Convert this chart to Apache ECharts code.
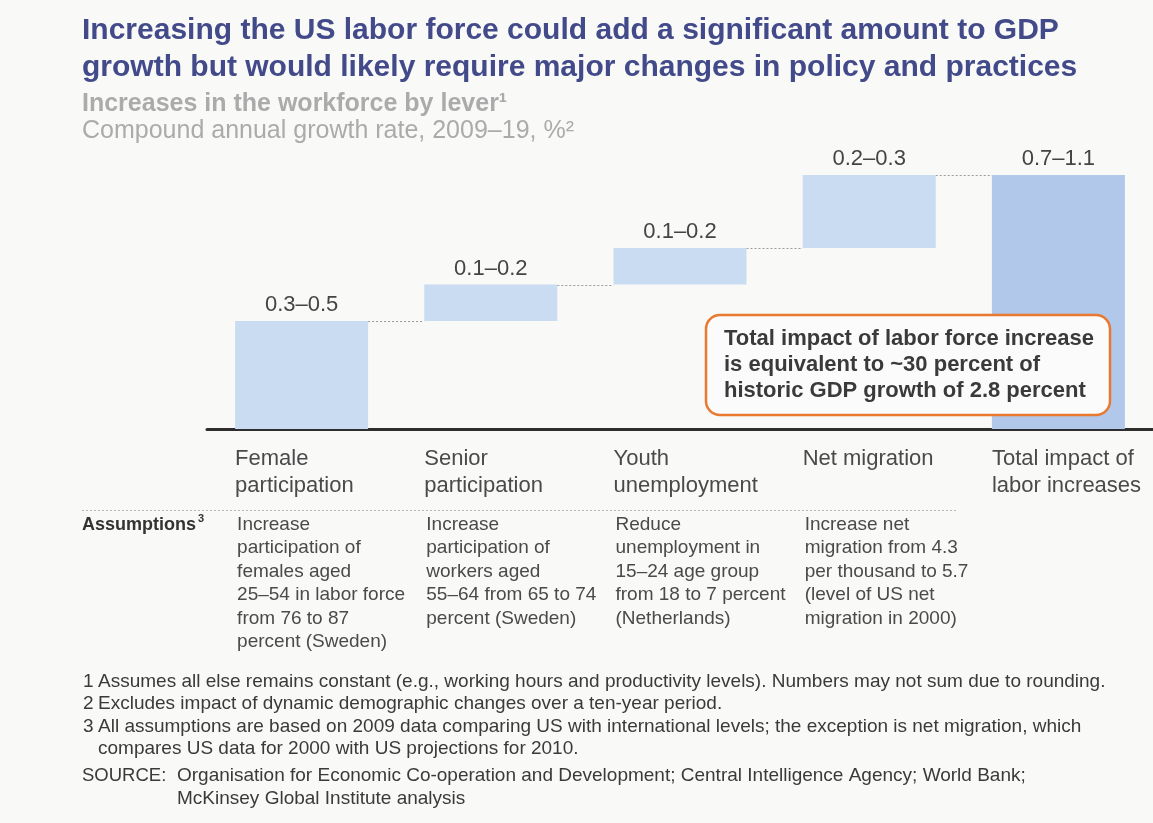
<!DOCTYPE html>
<html>
<head>
<meta charset="utf-8">
<script src="https://cdn.jsdelivr.net/npm/echarts@6/dist/echarts.min.js"></script>
<style>
  html, body { margin: 0; padding: 0; background: #f9f9f8; }
  #chart { width: 1153px; height: 823px; }
</style>
</head>
<body>
<div id="chart"></div>
<script>
// Levers of labor-force growth and their estimated contribution (CAGR 2009–19, %)
const categories = ['Female\nparticipation', 'Senior\nparticipation', 'Youth\nunemployment', 'Net migration', 'Total impact of\nlabor increases'];
const barValues = [0.37, 0.125, 0.125, 0.25, 0.87];   // drawn bar heights
const rangeLow  = [0.3, 0.1, 0.1, 0.2, 0.7];
const rangeHigh = [0.5, 0.2, 0.2, 0.3, 1.1];
const isTotal   = [false, false, false, false, true];

const assumptions = [
  'Increase\nparticipation of\nfemales aged\n25–54 in labor force\nfrom 76 to 87\npercent (Sweden)',
  'Increase\nparticipation of\nworkers aged\n55–64 from 65 to 74\npercent (Sweden)',
  'Reduce\nunemployment in\n15–24 age group\nfrom 18 to 7 percent\n(Netherlands)',
  'Increase net\nmigration from 4.3\nper thousand to 5.7\n(level of US net\nmigration in 2000)'
];

const footnoteNums = ['1', '2', '3', ''];
const footnoteTexts = [
  'Assumes all else remains constant (e.g., working hours and productivity levels). Numbers may not sum due to rounding.',
  'Excludes impact of dynamic demographic changes over a ten-year period.',
  'All assumptions are based on 2009 data comparing US with international levels; the exception is net migration, which',
  'compares US data for 2000 with US projections for 2010.'
];
const sourceLines = [
  'Organisation for Economic Co-operation and Development; Central Intelligence Agency; World Bank;',
  'McKinsey Global Institute analysis'
];

const FONT = '"Liberation Sans", Arial, Helvetica, sans-serif';
const BAR_W = 133;
const LEVER_COLOR = '#cadcf1';
const TOTAL_COLOR = '#b2c8ea';

// invisible base for the floating waterfall steps
const baseValues = [];
let running = 0;
barValues.forEach((v, i) => {
  if (isTotal[i]) { baseValues.push(0); }
  else { baseValues.push(running); running += v; }
});
const connectorData = [];
for (let i = 0; i < barValues.length - 1; i++) {
  connectorData.push([i, baseValues[i] + barValues[i]]);
}

const chart = echarts.init(document.getElementById('chart'), null, { renderer: 'canvas' });

const option = {
  backgroundColor: '#f9f9f8',
  animation: false,
  textStyle: { fontFamily: FONT },
  grid: { left: 207, right: 0, top: 108, bottom: 394, containLabel: false },
  xAxis: {
    type: 'category',
    data: categories,
    axisLine: { show: true, lineStyle: { color: '#2e2e2e', width: 3 } },
    axisTick: { show: false },
    axisLabel: {
      interval: 0,
      margin: 16,
      formatter: v => v.split('\n').map(s => '{c|' + s + '}').join('\n'),
      rich: {
        c: { width: BAR_W, align: 'left', fontSize: 22, lineHeight: 27, color: '#4a4a4a', fontFamily: FONT }
      }
    }
  },
  yAxis: {
    type: 'value', min: 0, max: 1.1,
    show: false, splitLine: { show: false }
  },
  series: [
    {
      type: 'bar', stack: 'w', barWidth: BAR_W, silent: true,
      itemStyle: { color: 'rgba(0,0,0,0)' },
      data: baseValues
    },
    {
      type: 'bar', stack: 'w', barWidth: BAR_W,
      data: barValues.map((v, i) => ({ value: v, itemStyle: { color: isTotal[i] ? TOTAL_COLOR : LEVER_COLOR } })),
      label: {
        show: true, position: 'top', distance: 5,
        fontSize: 22, color: '#444', fontFamily: FONT,
        formatter: p => rangeLow[p.dataIndex] + '–' + rangeHigh[p.dataIndex]
      }
    },
    {
      type: 'custom',
      silent: true,
      data: connectorData,
      renderItem: (params, api) => {
        const i = api.value(0), y = api.value(1);
        const a = api.coord([i, y]);
        const b = api.coord([i + 1, y]);
        return {
          type: 'line',
          shape: { x1: a[0] + BAR_W / 2, y1: Math.round(a[1]) + 0.5, x2: b[0] - BAR_W / 2, y2: Math.round(a[1]) + 0.5 },
          style: { stroke: '#9a9a9a', lineWidth: 1, lineDash: [2, 2] }
        };
      }
    }
  ]
};

chart.setOption(option);

// text blocks placed against the category positions
const g = [];
g.push({
  type: 'text', left: 82, top: 12, z: 100,
  style: {
    text: 'Increasing the US labor force could add a significant amount to GDP\ngrowth but would likely require major changes in policy and practices',
    font: 'bold 30px ' + FONT, lineHeight: 37, fill: '#424a8a'
  }
});
g.push({ type: 'text', left: 82, top: 91, z: 100, style: { text: 'Increases in the workforce by lever¹', font: 'bold 25px ' + FONT, lineHeight: 27, fill: '#ababab' } });
g.push({ type: 'text', left: 82, top: 118, z: 100, style: { text: 'Compound annual growth rate, 2009–19, %²', font: '25px ' + FONT, lineHeight: 27, fill: '#ababab' } });

// callout
g.push({
  type: 'rect', z: 100, shape: { x: 706, y: 315, width: 404, height: 100, r: 14 },
  style: { fill: '#fbfbfb', stroke: '#e8792e', lineWidth: 2.5 }
});
g.push({
  type: 'text', left: 724, top: 326, z: 101,
  style: {
    text: 'Total impact of labor force increase\nis equivalent to ~30 percent of\nhistoric GDP growth of 2.8 percent',
    font: 'bold 22px ' + FONT, lineHeight: 26, fill: '#3a3a3a'
  }
});

// separator under category labels
g.push({
  type: 'line', z: 100, shape: { x1: 82, y1: 510.5, x2: 958, y2: 510.5 },
  style: { stroke: '#b5b5b5', lineWidth: 1, lineDash: [2, 2] }
});
g.push({ type: 'text', left: 82, top: 514, z: 100, style: { text: 'Assumptions', font: 'bold 18px ' + FONT, lineHeight: 22, fill: '#333' } });
g.push({ type: 'text', left: 198, top: 513, z: 100, style: { text: '3', font: 'bold 11px ' + FONT, lineHeight: 12, fill: '#333' } });
assumptions.forEach((t, i) => {
  const cx = chart.convertToPixel({ xAxisIndex: 0 }, i);
  g.push({
    type: 'text', left: cx - BAR_W / 2 + 2, top: 513, z: 100,
    style: { text: t, font: '19px ' + FONT, lineHeight: 23.5, fill: '#4a4a4a' }
  });
});

// footnotes
const fnTop = [671, 693, 716, 738];
footnoteTexts.forEach((t, i) => {
  if (footnoteNums[i]) g.push({ type: 'text', left: 83, top: fnTop[i], z: 100, style: { text: footnoteNums[i], font: '19px ' + FONT, lineHeight: 22, fill: '#3a3a3a' } });
  g.push({ type: 'text', left: 98, top: fnTop[i], z: 100, style: { text: t, font: '19px ' + FONT, lineHeight: 22, fill: '#3a3a3a' } });
});
g.push({ type: 'text', left: 82, top: 765, z: 100, style: { text: 'SOURCE:', font: '18.5px ' + FONT, lineHeight: 22, fill: '#3a3a3a' } });
sourceLines.forEach((t, i) => {
  g.push({ type: 'text', left: 177, top: 765 + i * 23, z: 100, style: { text: t, font: '19px ' + FONT, lineHeight: 22, fill: '#3a3a3a' } });
});

chart.setOption({ graphic: g });
</script>
</body>
</html>
